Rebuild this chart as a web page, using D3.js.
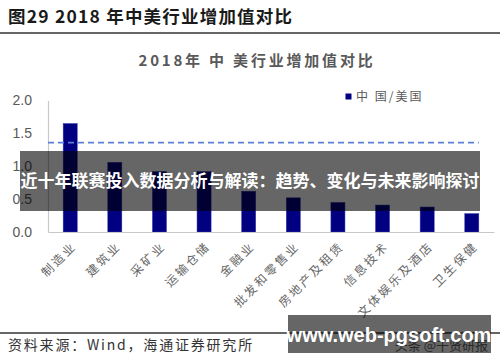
<!DOCTYPE html>
<html>
<head>
<meta charset="utf-8">
<script src="https://cdn.jsdelivr.net/npm/d3@7"></script>
<style>
  html, body { margin: 0; padding: 0; background: #fff; }
  svg { display: block; }
</style>
</head>
<body>
<svg id="chart" width="500" height="362"></svg>
<script>
const categories = ["制造业", "建筑业", "采矿业", "运输仓储", "金融业", "批发和零售业", "房地产及租赁", "信息技术", "文体娱乐及酒店", "卫生保健"];
const ratioValues = [1.65, 1.06, 0.92, 0.92, 0.62, 0.52, 0.45, 0.41, 0.38, 0.28];
const referenceLine = [1.36];
const yTicks = [0.0, 0.5, 1.0, 1.5, 2.0];
const seriesName = "中 国/美国";
const figureTitle = "图29 2018 年中美行业增加值对比";
const chartTitle = "2018年 中 美行业增加值对比";
const sourceText = "资料来源：Wind，海通证券研究所";
const bannerText = "近十年联赛投入数据分析与解读：趋势、变化与未来影响探讨";
const watermarkText = "www.web-pgsoft.com";
const watermarkUnder = "头条 @千贤研报";

const svg = d3.select("#chart");
const cjk = "'Noto Sans CJK SC', 'Noto Sans', sans-serif";

// figure header
svg.append("text").attr("x", 8).attr("y", 23)
  .attr("font-family", cjk).attr("font-weight", 700).attr("font-size", 17.5)
  .attr("letter-spacing", 1.2)
  .attr("fill", "#1a1a1a").text(figureTitle);
svg.append("line").attr("x1", 0).attr("x2", 500).attr("y1", 33).attr("y2", 33)
  .attr("stroke", "#333").attr("stroke-width", 1.5);

// chart title
svg.append("text").attr("x", 257).attr("y", 66).attr("text-anchor", "middle")
  .attr("font-family", cjk).attr("font-weight", 700).attr("font-size", 15)
  .attr("letter-spacing", 2.8)
  .attr("fill", "#595959").text(chartTitle);

// scales
const x = d3.scaleBand().domain(categories).range([48, 494]).paddingInner(0.685).paddingOuter(0.34);
const y = d3.scaleLinear().domain([0, 2]).range([232, 100.5]);

// y axis
const yAxis = d3.axisLeft(y).tickValues(yTicks).tickFormat(d3.format(".1f")).tickSize(0).tickPadding(16);
const gy = svg.append("g").attr("transform", "translate(48,0)").call(yAxis);
gy.select(".domain").attr("stroke", "#c8c8c8").attr("stroke-width", 1.2);
gy.selectAll("text").attr("font-family", "'Liberation Sans', Arial, sans-serif")
  .attr("font-size", 14).attr("fill", "#595959");

// bars
svg.append("g").selectAll("rect").data(categories).join("rect")
  .attr("x", d => x(d)).attr("width", x.bandwidth())
  .attr("y", (d, i) => y(ratioValues[i]))
  .attr("height", (d, i) => y(0) - y(ratioValues[i]))
  .attr("fill", "#000080").attr("stroke", "#3a3ab0").attr("stroke-width", 0.5);

// x axis baseline + labels
const xAxis = d3.axisBottom(x).tickSize(0).tickFormat("");
const gx = svg.append("g").attr("transform", `translate(0,${y(0)})`).call(xAxis);
gx.select(".domain").attr("stroke", "#c8c8c8").attr("stroke-width", 1.2);

svg.append("g").selectAll("text").data(categories).join("text")
  .attr("transform", d => `translate(${x(d) + x.bandwidth() / 2 + 4},${y(0) + 12}) rotate(-45)`)
  .attr("text-anchor", "end").attr("dy", "0.35em")
  .attr("font-family", cjk).attr("font-size", 12).attr("letter-spacing", 2.4)
  .attr("fill", "#666").text(d => d);

// reference dashed line
svg.append("g").selectAll("line").data(referenceLine).join("line")
  .attr("x1", x.range()[0]).attr("x2", x(categories[categories.length - 1]) + x.bandwidth())
  .attr("y1", d => y(d)).attr("y2", d => y(d))
  .attr("stroke", "#5b7fd6").attr("stroke-width", 1.8).attr("stroke-dasharray", "6,4");

// legend
svg.append("rect").attr("x", 345.5).attr("y", 93.5).attr("width", 6).attr("height", 6).attr("fill", "#000080");
svg.append("text").attr("x", 356).attr("y", 101)
  .attr("font-family", cjk).attr("font-size", 12).attr("letter-spacing", 2)
  .attr("fill", "#595959").text(seriesName);

// bottom source
svg.append("line").attr("x1", 0).attr("x2", 500).attr("y1", 333).attr("y2", 333)
  .attr("stroke", "#333").attr("stroke-width", 1.5);
svg.append("text").attr("x", 8).attr("y", 350)
  .attr("font-family", cjk).attr("font-size", 14).attr("letter-spacing", 1.8)
  .attr("fill", "#333").text(sourceText);

// overlays
svg.append("text").attr("x", 488).attr("y", 350).attr("text-anchor", "end")
  .attr("font-family", cjk).attr("font-size", 13).attr("fill", "#666").text(watermarkUnder);
svg.append("rect").attr("x", 20).attr("y", 151).attr("width", 460).attr("height", 60)
  .attr("fill", "rgba(0,0,0,0.6)");
svg.append("text").attr("x", 250).attr("y", 181).attr("text-anchor", "middle").attr("dy", "0.35em")
  .attr("font-family", cjk).attr("font-weight", 700).attr("font-size", 17)
  .attr("fill", "#fff").text(bannerText);
svg.append("rect").attr("x", 288).attr("y", 315).attr("width", 203).attr("height", 38)
  .attr("fill", "rgba(0,0,0,0.6)");
svg.append("text").attr("x", 389).attr("y", 335).attr("text-anchor", "middle").attr("dy", "0.35em")
  .attr("font-family", "'Liberation Sans', Arial, sans-serif").attr("font-weight", 700).attr("font-size", 20)
  .attr("fill", "#fff").text(watermarkText);
</script>
</body>
</html>
